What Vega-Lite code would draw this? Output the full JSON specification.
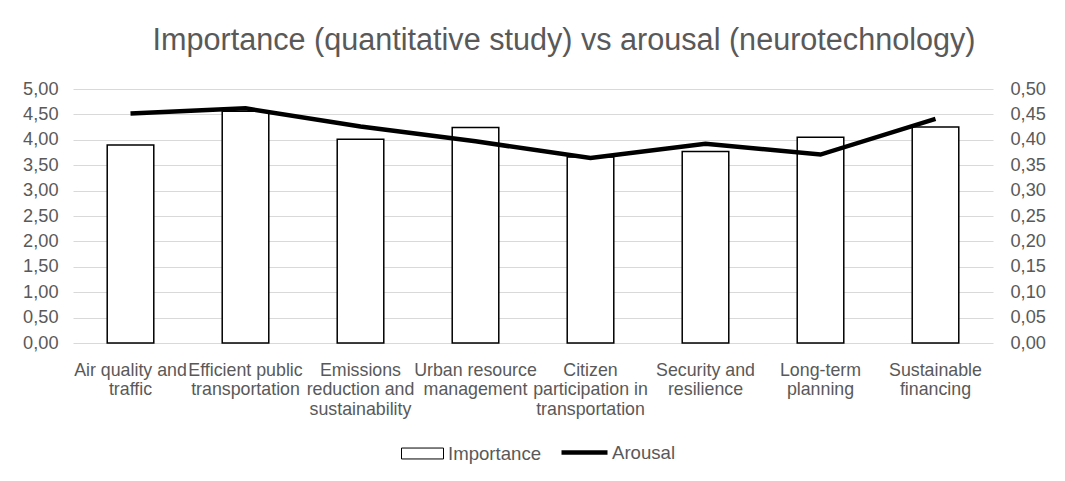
{
  "$schema": "https://vega.github.io/schema/vega-lite/v6.json",
  "autosize": {"type": "none"},
  "padding": {"left": 73, "top": 89, "right": 72, "bottom": 138},
  "width": 920,
  "height": 254,
  "background": "white",
  "title": {
    "text": "Importance (quantitative study) vs arousal (neurotechnology)",
    "fontSize": 30.6,
    "font": "Liberation Sans",
    "fontWeight": "normal",
    "color": "#595959",
    "anchor": "middle",
    "frame": "group",
    "baseline": "alphabetic",
    "dx": 31,
    "offset": -2
  },
  "data": {
    "values": [
      {"category": "Air quality and traffic", "importance": 3.90, "arousal": 0.452},
      {"category": "Efficient public transportation", "importance": 4.56, "arousal": 0.462},
      {"category": "Emissions reduction and sustainability", "importance": 4.01, "arousal": 0.426},
      {"category": "Urban resource management", "importance": 4.24, "arousal": 0.397},
      {"category": "Citizen participation in transportation", "importance": 3.66, "arousal": 0.364},
      {"category": "Security and resilience", "importance": 3.77, "arousal": 0.392},
      {"category": "Long-term planning", "importance": 4.05, "arousal": 0.371},
      {"category": "Sustainable financing", "importance": 4.25, "arousal": 0.441}
    ]
  },
  "encoding": {
    "x": {
      "field": "category",
      "type": "nominal",
      "sort": null,
      "scale": {"paddingInner": 0.595, "paddingOuter": 0.2975},
      "axis": {
        "title": null,
        "domain": false,
        "ticks": false,
        "grid": false,
        "labelAngle": 0,
        "labelFont": "Liberation Sans",
        "labelFontSize": 17.8,
        "labelColor": "#595959",
        "labelPadding": 18,
        "labelBaseline": "top",
        "labelLineHeight": 19.8,
        "labelOverlap": false,
        "labelLimit": 0,
        "labelBound": false,
        "labelExpr": "datum.value == 'Air quality and traffic' ? ['Air quality and', 'traffic'] : datum.value == 'Efficient public transportation' ? ['Efficient public', 'transportation'] : datum.value == 'Emissions reduction and sustainability' ? ['Emissions', 'reduction and', 'sustainability'] : datum.value == 'Urban resource management' ? ['Urban resource', 'management'] : datum.value == 'Citizen participation in transportation' ? ['Citizen', 'participation in', 'transportation'] : datum.value == 'Security and resilience' ? ['Security and', 'resilience'] : datum.value == 'Long-term planning' ? ['Long-term', 'planning'] : ['Sustainable', 'financing']"
      }
    }
  },
  "layer": [
    {
      "mark": {"type": "bar", "stroke": "black", "strokeWidth": 1.5},
      "encoding": {
        "y": {
          "field": "importance",
          "type": "quantitative",
          "scale": {"domain": [0, 5], "nice": false},
          "axis": {
            "title": null,
            "orient": "left",
            "values": [0, 0.5, 1, 1.5, 2, 2.5, 3, 3.5, 4, 4.5, 5],
            "labelExpr": "replace(format(datum.value, '.2f'), '.', ',')",
            "domain": false,
            "ticks": false,
            "grid": true,
            "gridColor": "#d9d9d9",
            "gridWidth": 1.2,
            "labelFont": "Liberation Sans",
            "labelFontSize": 18.2,
            "labelColor": "#595959",
            "labelPadding": 15
          }
        },
        "fill": {
          "datum": "Importance",
          "scale": {"domain": ["Importance"], "range": ["white"]},
          "legend": {
            "title": null,
            "orient": "none",
            "legendX": 328,
            "legendY": 343,
            "padding": 0,
            "symbolType": "M-1,-0.26H1V0.26H-1Z",
            "symbolSize": 1764,
            "symbolStrokeColor": "black",
            "symbolStrokeWidth": 1,
            "symbolFillColor": "white",
            "labelFont": "Liberation Sans",
            "labelFontSize": 18.6,
            "labelColor": "#595959",
            "labelOffset": 4
          }
        }
      }
    },
    {
      "mark": {"type": "line", "strokeWidth": 4.5},
      "encoding": {
        "y": {
          "field": "arousal",
          "type": "quantitative",
          "scale": {"domain": [0, 0.5], "nice": false},
          "axis": {
            "title": null,
            "orient": "right",
            "values": [0, 0.05, 0.1, 0.15, 0.2, 0.25, 0.3, 0.35, 0.4, 0.45, 0.5],
            "labelExpr": "replace(format(datum.value, '.2f'), '.', ',')",
            "domain": false,
            "ticks": false,
            "grid": false,
            "labelFont": "Liberation Sans",
            "labelFontSize": 18.2,
            "labelColor": "#595959",
            "labelPadding": 17
          }
        },
        "stroke": {
          "datum": "Arousal",
          "scale": {"domain": ["Arousal"], "range": ["black"]},
          "legend": {
            "title": null,
            "orient": "none",
            "legendX": 486,
            "legendY": 338,
            "padding": 0,
            "symbolType": "stroke",
            "symbolSize": 2116,
            "symbolStrokeWidth": 4.5,
            "labelFont": "Liberation Sans",
            "labelFontSize": 18.6,
            "labelColor": "#595959",
            "labelOffset": 2
          }
        }
      }
    }
  ],
  "resolve": {"scale": {"y": "independent"}, "axis": {"y": "independent"}},
  "config": {"view": {"stroke": null}}
}
